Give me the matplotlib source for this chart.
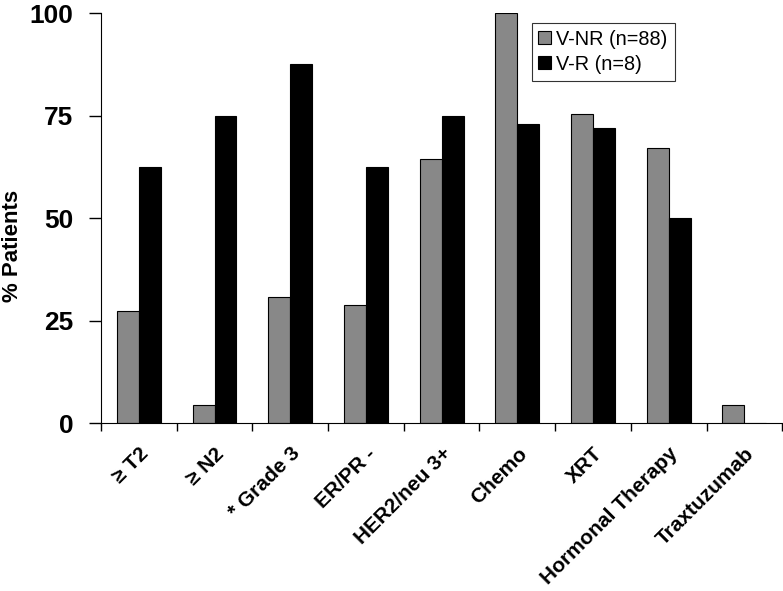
import numpy as np
import matplotlib
matplotlib.use('Agg')
import matplotlib.pyplot as plt

# Font similar to Arial used in the original figure
plt.rcParams['font.family'] = ['Liberation Sans', 'DejaVu Sans']

categories = ['\u2265 T2', '\u2265 N2', '* Grade 3', 'ER/PR -', 'HER2/neu 3+',
              'Chemo', 'XRT', 'Hormonal Therapy', 'Traxtuzumab']
v_nr = [27.3, 4.5, 30.7, 28.8, 64.4, 100.0, 75.4, 67.0, 4.5]
v_r = [62.5, 75.0, 87.5, 62.5, 75.0, 72.9, 72.0, 50.0, 0.0]
series_labels = ['V-NR (n=88)', 'V-R (n=8)']
yticks = [0, 25, 50, 75, 100]

fig = plt.figure(figsize=(7.83, 5.91), dpi=100)
ax = fig.add_axes([0.129, 0.284, 0.870, 0.694])

x = np.arange(len(categories))
w = 0.29
ax.bar(x - w/2, v_nr, w, color='#888888', edgecolor='black', linewidth=0.8,
       label=series_labels[0])
ax.bar(x + w/2, v_r, w, color='black', edgecolor='black', linewidth=0.8,
       label=series_labels[1])

ax.set_xlim(-0.5, len(categories) - 0.5)
ax.set_ylim(0, 100)

# ticks between the groups, labels at group centres
ax.set_xticks(np.arange(len(categories) + 1) - 0.5)
ax.set_xticklabels([])
ax.set_xticks(x, minor=True)
ax.set_xticklabels(categories, minor=True, rotation=45, ha='right',
                   rotation_mode='anchor', fontsize=15, fontweight='bold')
ax.tick_params(axis='x', which='minor', length=0, pad=15)
ax.tick_params(axis='x', which='major', direction='out', length=6, width=1)

ax.set_yticks(yticks)
ax.set_yticklabels([str(t) for t in yticks], fontsize=19, fontweight='bold')
ax.tick_params(axis='y', direction='out', length=9, width=1, pad=11)
ax.set_ylabel('% Patients', fontsize=16, fontweight='bold')
ax.yaxis.set_label_coords(-0.114, 0.432)

ax.spines['top'].set_visible(False)
ax.spines['right'].set_visible(False)

leg = ax.legend(loc='upper left', bbox_to_anchor=(0.632, 0.976), fontsize=14.3,
                frameon=True, fancybox=False, edgecolor='black',
                handlelength=0.65, handleheight=0.65, handletextpad=0.25,
                borderpad=0.35, labelspacing=0.3, borderaxespad=0)
leg.get_frame().set_linewidth(0.8)

fig.savefig('out.png', dpi=100)
